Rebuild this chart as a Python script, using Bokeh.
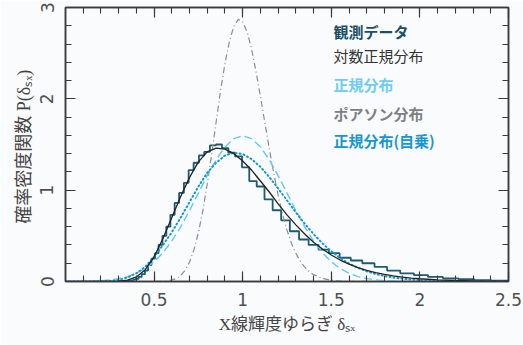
from bokeh.embed import file_html
from bokeh.models import FixedTicker, Label, LinearAxis, Range1d
from bokeh.plotting import figure
from bokeh.resources import INLINE

# Observed distribution: log-spaced bin edges and density per bin
hist_edges = [0.300, 0.312, 0.325, 0.338, 0.352, 0.366, 0.381, 0.397, 0.413, 0.430,
              0.448, 0.466, 0.485, 0.505, 0.525, 0.547, 0.569, 0.592, 0.616, 0.641,
              0.668, 0.695, 0.723, 0.753, 0.783, 0.815, 0.849, 0.883, 0.919, 0.957,
              0.996, 1.037, 1.079, 1.123, 1.169, 1.217, 1.266, 1.318, 1.372, 1.428,
              1.486, 1.547, 1.610, 1.675, 1.744, 1.815, 1.889, 1.966, 2.046, 2.130,
              2.217, 2.307, 2.402, 2.500]
hist_density = [0.0, 0.0, 0.005, 0.005, 0.01, 0.01, 0.02, 0.03, 0.05, 0.08,
                0.12, 0.18, 0.25, 0.31, 0.40, 0.50, 0.60, 0.73, 0.86, 0.97,
                1.08, 1.22, 1.30, 1.38, 1.42, 1.49, 1.50, 1.46, 1.41, 1.37,
                1.25, 1.10, 1.04, 0.90, 0.78, 0.67, 0.55, 0.46, 0.40, 0.35,
                0.31, 0.26, 0.23, 0.20, 0.16, 0.12, 0.09, 0.07, 0.05, 0.035,
                0.025, 0.015, 0.01]

# Model curves sampled on a common grid
curve_x = [0.0, 0.1, 0.2, 0.25, 0.3, 0.35, 0.4, 0.45, 0.5, 0.55, 0.6, 0.65, 0.7,
           0.75, 0.8, 0.85, 0.9, 0.95, 1.0, 1.05, 1.1, 1.15, 1.2, 1.25, 1.3, 1.35,
           1.4, 1.45, 1.5, 1.55, 1.6, 1.65, 1.7, 1.75, 1.8, 1.85, 1.9, 1.95, 2.0,
           2.1, 2.2, 2.3, 2.4, 2.5]
lognormal_y = [0.0, 0.0, 0.0, 0.0, 0.003, 0.015, 0.05, 0.13, 0.27, 0.47, 0.70, 0.93,
               1.14, 1.31, 1.42, 1.46, 1.45, 1.40, 1.32, 1.22, 1.10, 0.98, 0.85,
               0.73, 0.62, 0.52, 0.43, 0.355, 0.29, 0.235, 0.19, 0.153, 0.122,
               0.097, 0.077, 0.061, 0.048, 0.038, 0.030, 0.018, 0.011, 0.007,
               0.004, 0.0025]
normal_y = [0.0, 0.002, 0.0095, 0.018, 0.032, 0.054, 0.090, 0.142, 0.216, 0.316,
            0.444, 0.599, 0.777, 0.968, 1.159, 1.333, 1.473, 1.564, 1.596, 1.564,
            1.473, 1.333, 1.159, 0.968, 0.777, 0.599, 0.444, 0.316, 0.216, 0.142,
            0.090, 0.054, 0.032, 0.018, 0.0095, 0.005, 0.0025, 0.001, 0.0005,
            0.0, 0.0, 0.0, 0.0, 0.0]
normal_sq_y = [0.0, 0.0, 0.002, 0.006, 0.017, 0.045, 0.09, 0.16, 0.27, 0.40, 0.54,
               0.70, 0.87, 1.04, 1.19, 1.30, 1.38, 1.41, 1.395, 1.34, 1.255, 1.144,
               1.019, 0.888, 0.757, 0.633, 0.519, 0.418, 0.331, 0.258, 0.198,
               0.150, 0.112, 0.082, 0.060, 0.043, 0.031, 0.021, 0.015, 0.007,
               0.003, 0.0013, 0.0005, 0.0002]

# Poisson curve, sampled more finely around its narrow peak
poisson_x = [0.0, 0.45, 0.5, 0.525, 0.55, 0.575, 0.6, 0.625, 0.65, 0.675, 0.7,
             0.725, 0.75, 0.775, 0.8, 0.825, 0.85, 0.875, 0.9, 0.925, 0.95, 0.975,
             1.0, 1.025, 1.05, 1.075, 1.1, 1.125, 1.15, 1.175, 1.2, 1.225, 1.25,
             1.275, 1.3, 1.325, 1.35, 1.375, 1.4, 1.45, 1.5, 1.55, 1.6, 1.7, 2.5]
poisson_y = [0.0, 0.0, 0.0002, 0.0008, 0.0024, 0.0063, 0.015, 0.0325, 0.0655,
             0.123, 0.213, 0.348, 0.535, 0.774, 1.07, 1.394, 1.746, 2.088, 2.388,
             2.627, 2.795, 2.87, 2.844, 2.733, 2.546, 2.301, 2.026, 1.739, 1.455,
             1.188, 0.945, 0.736, 0.562, 0.420, 0.310, 0.2225, 0.1575, 0.1097,
             0.0749, 0.0332, 0.0139, 0.0055, 0.0021, 0.0003, 0.0]

x_ticks = [0.5, 1, 1.5, 2, 2.5]
x_tick_labels = ["0.5", "1", "1.5", "2", "2.5"]
y_ticks = [0, 1, 2, 3]

x_title = "X線輝度ゆらぎ δₛₓ"
y_title = "確率密度関数  P(δₛₓ)"

legend_labels = ["観測データ", "対数正規分布", "正規分布", "ポアソン分布", "正規分布(自乗)"]
legend_colors = ["#1b4f66", "#333333", "#6ccdf3", "#7c8085", "#1797d1"]
legend_styles = ["bold", "normal", "bold", "bold", "bold"]

HIST_C = "#1d5b70"
BG = "#fafbfd"
AXIS_C = "#3a3a3a"
JP_FONT = "Noto Sans CJK JP"
TITLE_FONT = "Liberation Serif, Noto Sans CJK JP"
NUM_FONT = "DejaVu Sans"

p = figure(width=523, height=345, output_backend="svg", toolbar_location=None,
           x_range=Range1d(0, 2.5), y_range=Range1d(0, 3),
           min_border_left=65, min_border_right=15, min_border_top=7,
           min_border_bottom=64)
p.background_fill_color = BG
p.border_fill_color = BG
p.outline_line_color = AXIS_C
p.outline_line_width = 1.5
p.grid.visible = False

x_minor = [i / 10 for i in range(1, 25)]
y_minor = [i / 5 for i in range(1, 15)]
x_ticker = FixedTicker(ticks=x_ticks, minor_ticks=x_minor)
y_ticker = FixedTicker(ticks=y_ticks, minor_ticks=y_minor)


def style_axis(ax, show_labels):
    ax.axis_line_color = AXIS_C
    ax.axis_line_width = 1.5
    ax.major_tick_line_color = AXIS_C
    ax.minor_tick_line_color = AXIS_C
    ax.major_tick_line_width = 1.2
    ax.minor_tick_line_width = 1.1
    ax.major_tick_in = 10
    ax.major_tick_out = 0
    ax.minor_tick_in = 6
    ax.minor_tick_out = 0
    if show_labels:
        ax.major_label_text_font = NUM_FONT
        ax.major_label_text_font_size = "17px"
        ax.major_label_text_color = "#505050"
    else:
        # mirrored tick marks only
        ax.major_label_text_color = None
        ax.major_label_text_font_size = "1px"
        ax.major_label_standoff = 0


xa = p.xaxis[0]
xa.ticker = x_ticker
xa.major_label_overrides = dict(zip(x_ticks, x_tick_labels))
xa.major_label_standoff = 11
style_axis(xa, True)
xa.axis_label = x_title
xa.axis_label_text_font = TITLE_FONT
xa.axis_label_text_font_size = "17px"
xa.axis_label_text_font_style = "normal"
xa.axis_label_text_color = "#444444"
xa.axis_label_standoff = 6

ya = p.yaxis[0]
ya.ticker = y_ticker
ya.major_label_orientation = "vertical"
ya.major_label_standoff = 12
style_axis(ya, True)
ya.axis_label = y_title
ya.axis_label_text_font = TITLE_FONT
ya.axis_label_text_font_size = "18px"
ya.axis_label_text_font_style = "normal"
ya.axis_label_text_color = "#444444"
ya.axis_label_standoff = 4

top = LinearAxis(ticker=x_ticker)
style_axis(top, False)
p.add_layout(top, "above")
right = LinearAxis(ticker=y_ticker)
style_axis(right, False)
p.add_layout(right, "right")

# Observed histogram drawn as a step outline
hx, hy = [hist_edges[0]], [0.0]
for i, d in enumerate(hist_density):
    hx += [hist_edges[i], hist_edges[i + 1]]
    hy += [d, d]
hx.append(hist_edges[-1])
hy.append(0.0)
p.line(hx, hy, line_color=HIST_C, line_width=1.8)

p.line(poisson_x, poisson_y, line_color="#8a8e92", line_width=1.2, line_dash="6 3 1 3")
p.line(curve_x, normal_y, line_color="#62c8f2", line_width=1.4, line_dash="8 4")
p.line(curve_x, normal_sq_y, line_color="#1797d1", line_width=2.0, line_dash="1 3",
       line_cap="round")
p.line(curve_x, lognormal_y, line_color="#222222", line_width=1.3)

# Legend as coloured text entries
for lab, col, sty, yy in zip(legend_labels, legend_colors, legend_styles,
                             [2.732, 2.469, 2.152, 1.843, 1.544]):
    p.add_layout(Label(x=1.512, y=yy, text=lab, text_color=col, text_font=JP_FONT,
                       text_font_size="15px", text_font_style=sty,
                       text_baseline="middle", text_align="left"))

open("out.html", "w").write(file_html(p, INLINE))
